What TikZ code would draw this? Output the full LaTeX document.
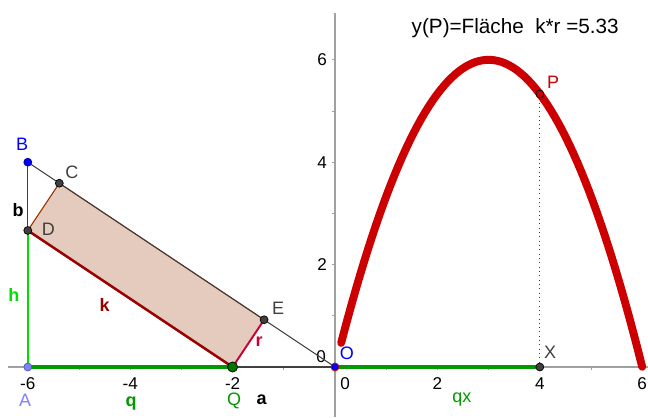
\documentclass[tikz,border=0pt]{standalone}
\usepackage{fontspec}
\setmainfont{Liberation Sans}
\usepackage{tikz}

\definecolor{axisgray}{RGB}{160,160,160}
\definecolor{ptgray}{RGB}{64,64,64}
\definecolor{rectfill}{RGB}{229,203,189}
\definecolor{rectline}{RGB}{153,51,0}
\definecolor{kred}{RGB}{153,0,0}
\definecolor{rred}{RGB}{204,0,51}
\definecolor{hgreen}{RGB}{0,224,0}
\definecolor{qgreen}{RGB}{0,153,0}
\definecolor{Qgreen}{RGB}{0,120,0}
\definecolor{curvered}{RGB}{204,0,0}
\definecolor{Ablue}{RGB}{128,128,255}

\begin{document}
\begin{tikzpicture}[x=1cm,y=1cm,font=\fontsize{10}{12}\selectfont,
    pt/.style={circle,draw=black,fill=ptgray,inner sep=0pt,minimum size=4.4pt,line width=0.4pt},
    lbl/.style={inner sep=0pt,text=ptgray},
    ticklbl/.style={inner sep=0pt,text=black,font=\fontsize{9.5}{11}\selectfont}]
      \useasboundingbox (-6.543,-0.977) rectangle (6.113,7.168);
      % Achsen
      \draw[axisgray,line width=0.6pt] (-6.39,0) -- (6.113,0);
      \draw[axisgray,line width=0.6pt] (0,-0.977) -- (0,6.92);
      \foreach \i in {-6,...,6} \draw[axisgray,line width=0.5pt] (\i,0) -- (\i,-0.06);
      \foreach \j in {1,...,6} \draw[axisgray,line width=0.5pt] (0,\j) -- (-0.06,\j);
      \foreach \i in {2,4,6} \node[ticklbl] (xl\i) at (\i,-0.32) {\i};
      \foreach \i in {2,4,6} \node[ticklbl] (xlm\i) at (-\i,-0.32) {-\i};
      \node[ticklbl] (xl0) at (0.2,-0.32) {0};
      \foreach \j in {2,4,6} \node[ticklbl] (yl\j) at (-0.25,\j) {\j};
      \node[ticklbl] (yl0) at (-0.27,0.2) {0};
      % Punkte Dreieck
      \coordinate (A) at (-6,0);
      \coordinate (B) at (-6,4);
      \coordinate (O) at (0,0);
      \coordinate (Q) at (-2,0);
      \coordinate (D) at (-6,2.6667);
      \coordinate (C) at (-5.3846,3.5897);
      \coordinate (E) at (-1.3846,0.9231);
      \coordinate (P) at (4,5.3333);
      \coordinate (X) at (4,0);
      % Rechteck
      \fill[rectfill] (Q) -- (D) -- (C) -- (E) -- cycle;
      \draw[rectline,line width=0.6pt] (D) -- (C) -- (E);
      % Dreieck
      \draw[ptgray,line width=0.6pt] (A) -- (O);
      \draw[ptgray,line width=0.6pt] (B) -- (O);
      \draw[ptgray,line width=0.6pt] (D) -- (B);
      \draw[hgreen,line width=1.4pt] (A) -- (D);
      \draw[kred,line width=1.4pt] (Q) -- (D);
      \draw[rred,line width=1.1pt] (Q) -- (E);
      \draw[qgreen,line width=1.7pt] (A) -- (Q);
      % Graph
      \draw[qgreen,line width=1.7pt] (O) -- (X);
      \draw[ptgray,dotted,line width=0.4pt] (P) -- (X);
      \draw[curvered,line width=4.4pt,line cap=round,domain=0.12:6,samples=80]
        plot (\x,{2*\x*(6-\x)/3});
      % Punkte
      \node[pt,draw=Ablue!70!black,fill=Ablue] (pA) at (A) {};
      \node[pt,draw=blue!60!black,fill=blue] (pB) at (B) {};
      \node[pt] (pC) at (C) {};
      \node[pt] (pD) at (D) {};
      \node[pt] (pE) at (E) {};
      \node[pt,minimum size=5.6pt,fill=Qgreen] (pQ) at (Q) {};
      \node[pt,draw=curvered,fill=blue] (pO) at (O) {};
      \node[pt] (pX) at (X) {};
      \node[pt,fill=curvered] (pP) at (P) {};
      % Beschriftungen
      \node[lbl,text=blue] (lB) at (-6.11,4.34) {B};
      \node[lbl] (lC) at (-5.14,3.81) {C};
      \node[lbl] (lD) at (-5.60,2.68) {D};
      \node[lbl] (lE) at (-1.11,1.15) {E};
      \node[lbl,text=black] (lb) at (-6.19,3.07) {\textbf{b}};
      \node[lbl,text=hgreen] (lh) at (-6.27,1.41) {\textbf{h}};
      \node[lbl,text=kred] (lk) at (-4.5,1.21) {\textbf{k}};
      \node[lbl,text=rred] (lr) at (-1.48,0.49) {\textbf{r}};
      \node[lbl,text=Ablue] (lA) at (-6.05,-0.66) {A};
      \node[lbl,text=qgreen] (lq) at (-3.98,-0.72) {\textbf{q}};
      \node[lbl,text=qgreen] (lQ) at (-1.97,-0.66) {Q};
      \node[lbl,text=black] (la) at (-1.43,-0.64) {\textbf{a}};
      \node[lbl,text=blue] (lO) at (0.23,0.27) {O};
      \node[lbl] (lX) at (4.2,0.29) {X};
      \node[lbl,text=qgreen] (lqx) at (2.48,-0.64) {qx};
      \node[lbl,text=curvered] (lP) at (4.26,5.57) {P};
      \node[lbl,text=black,font=\fontsize{11.5}{13}\selectfont] (title) at (3.52,6.62) {y(P)=Fläche\ \ k*r =5.33};
    \end{tikzpicture}
\end{document}
